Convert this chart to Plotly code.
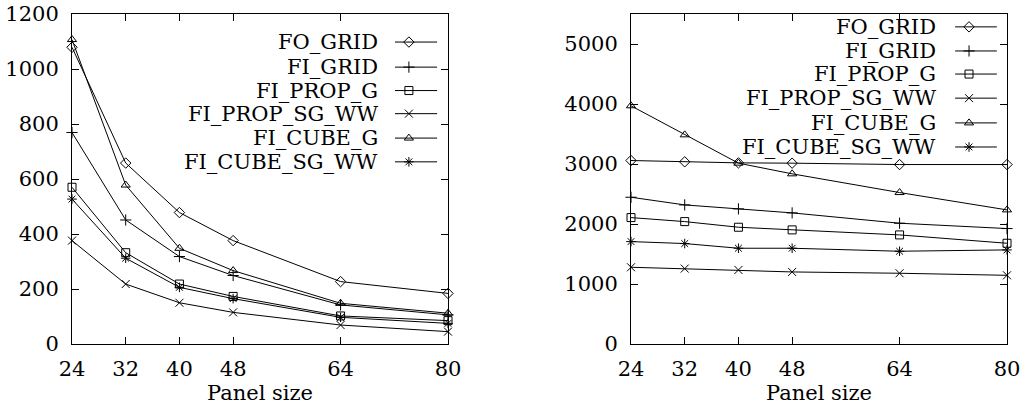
import plotly.graph_objects as go

panel_sizes = [24, 32, 40, 48, 64, 80]
series_names = ["FO_GRID", "FI_GRID", "FI_PROP_G", "FI_PROP_SG_WW", "FI_CUBE_G", "FI_CUBE_SG_WW"]

left_fo_grid = [1079, 658, 478, 376, 227, 184]
left_fi_grid = [769, 451, 318, 249, 142, 106]
left_fi_prop_g = [570, 332, 218, 173, 102, 85]
left_fi_prop_sg_ww = [376, 218, 150, 115, 69, 45]
left_fi_cube_g = [1107, 578, 348, 267, 148, 112]
left_fi_cube_sg_ww = [527, 312, 206, 165, 97, 75]

right_fo_grid = [3058, 3036, 3019, 3014, 2991, 2991]
right_fi_grid = [2446, 2318, 2252, 2185, 2013, 1924]
right_fi_prop_g = [2107, 2040, 1946, 1902, 1818, 1679]
right_fi_prop_sg_ww = [1279, 1257, 1234, 1201, 1179, 1145]
right_fi_cube_g = [3970, 3486, 3014, 2836, 2524, 2235]
right_fi_cube_sg_ww = [1707, 1674, 1596, 1596, 1546, 1568]

left_y_ticks = [0, 200, 400, 600, 800, 1000, 1200]
right_y_ticks = [0, 1000, 2000, 3000, 4000, 5000]
x_title = "Panel size"

left_series = [left_fo_grid, left_fi_grid, left_fi_prop_g, left_fi_prop_sg_ww, left_fi_cube_g, left_fi_cube_sg_ww]
right_series = [right_fo_grid, right_fi_grid, right_fi_prop_g, right_fi_prop_sg_ww, right_fi_cube_g, right_fi_cube_sg_ww]
symbols = ["diamond-open", "cross-thin-open", "square-open", "x-thin-open", "triangle-up-open", "asterisk-open"]
sizes = [8, 8, 8, 8, 8, 8]

W, H = 1022, 407
FONT = "DejaVu Serif, serif"
FS = 21

def px(v, total):
    return v / total

xdom1 = [px(72, W), px(448, W)]
xdom2 = [px(631, W), px(1007, W)]
ydom = [1 - px(344, H), 1 - px(14, H)]

fig = go.Figure()

def marker(i):
    return dict(symbol=symbols[i], size=sizes[i], color="black",
                line=dict(color="black", width=1))

for i, name in enumerate(series_names):
    fig.add_trace(go.Scatter(x=panel_sizes, y=left_series[i], mode="lines+markers",
                             line=dict(color="black", width=1), marker=marker(i),
                             xaxis="x", yaxis="y", showlegend=False, name=name, cliponaxis=False))
    fig.add_trace(go.Scatter(x=panel_sizes, y=right_series[i], mode="lines+markers",
                             line=dict(color="black", width=1), marker=marker(i),
                             xaxis="x2", yaxis="y2", showlegend=False, name=name, cliponaxis=False))

# custom legends (text left of sample, gnuplot style)
legend_cfg = [
    dict(xa="x3", ya="y3", text_x=0.819, l0=0.859, l1=0.971, mk=0.896,
         rows=[0.915, 0.839, 0.768, 0.698, 0.624, 0.552]),
    dict(xa="x4", ya="y4", text_x=0.816, l0=0.862, l1=0.973, mk=0.899,
         rows=[0.961, 0.888, 0.818, 0.745, 0.670, 0.597]),
]
annotations = []
for cfg in legend_cfg:
    for i, name in enumerate(series_names):
        yy = cfg["rows"][i]
        fig.add_trace(go.Scatter(x=[cfg["l0"], cfg["l1"]], y=[yy, yy], mode="lines",
                                 line=dict(color="black", width=1), xaxis=cfg["xa"], yaxis=cfg["ya"],
                                 showlegend=False, hoverinfo="skip"))
        fig.add_trace(go.Scatter(x=[cfg["mk"]], y=[yy], mode="markers", marker=marker(i),
                                 xaxis=cfg["xa"], yaxis=cfg["ya"], showlegend=False, hoverinfo="skip"))
        annotations.append(dict(x=cfg["text_x"], y=yy, xref=cfg["xa"], yref=cfg["ya"], text=name,
                                showarrow=False, xanchor="right", yanchor="middle",
                                font=dict(family=FONT, size=FS, color="black")))

axis_common = dict(showline=True, linecolor="black", linewidth=1, mirror="ticks",
                   ticks="inside", ticklen=7, tickcolor="black", tickwidth=1,
                   showgrid=False, zeroline=False, automargin=False,
                   tickfont=dict(family=FONT, size=FS, color="black"))

xcommon = dict(axis_common, range=[24, 80], tickvals=panel_sizes, ticklabelstandoff=6,
               title=dict(text=x_title, font=dict(family=FONT, size=FS, color="black"), standoff=3))

fig.update_layout(
    template="none",
    width=W, height=H, margin=dict(l=0, r=0, t=0, b=0, autoexpand=False),
    paper_bgcolor="white", plot_bgcolor="white",
    xaxis=dict(xcommon, domain=xdom1, anchor="y"),
    yaxis=dict(axis_common, domain=ydom, range=[0, 1200], tickvals=left_y_ticks, anchor="x",
               ticklabelstandoff=8),
    xaxis2=dict(xcommon, domain=xdom2, anchor="y2"),
    yaxis2=dict(axis_common, domain=ydom, range=[0, 5500], tickvals=right_y_ticks, anchor="x2",
                ticklabelstandoff=8),
    xaxis3=dict(domain=xdom1, range=[0, 1], visible=False, anchor="y3", overlaying="x"),
    yaxis3=dict(domain=ydom, range=[0, 1], visible=False, anchor="x3", overlaying="y"),
    xaxis4=dict(domain=xdom2, range=[0, 1], visible=False, anchor="y4", overlaying="x2"),
    yaxis4=dict(domain=ydom, range=[0, 1], visible=False, anchor="x4", overlaying="y2"),
    annotations=annotations,
    font=dict(family=FONT, size=FS, color="black"),
)

fig.write_html("out.html")
